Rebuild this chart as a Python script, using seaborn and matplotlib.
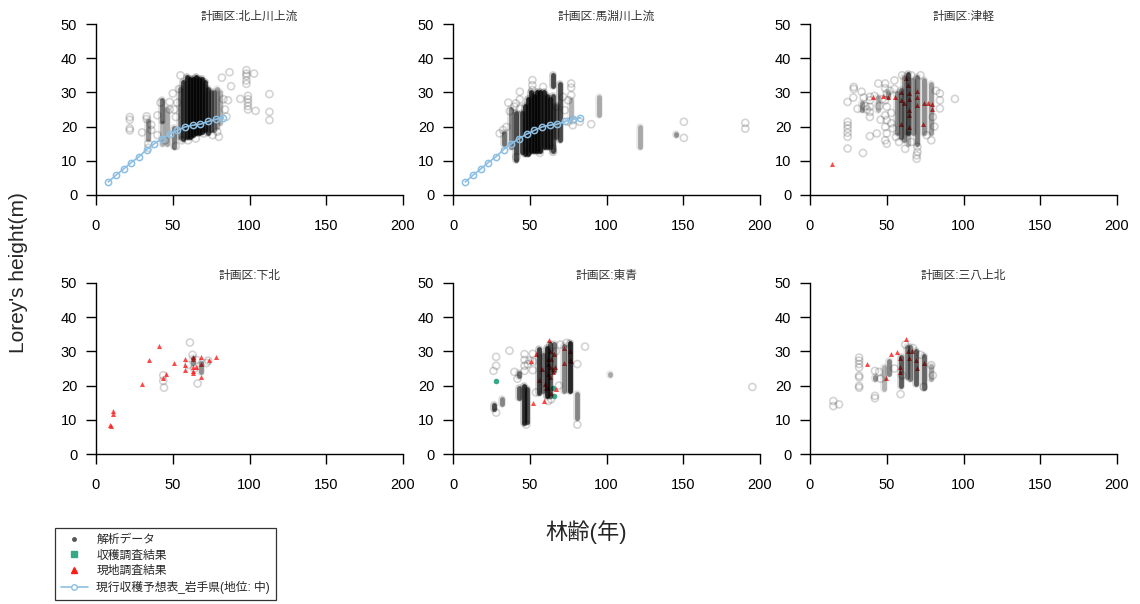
import matplotlib
matplotlib.use('Agg')
import matplotlib.pyplot as plt
from matplotlib.lines import Line2D
import pandas as pd
import seaborn as sns

# ---- data (age [years], Lorey's height [m]) ----
panel_titles = ['計画区:北上川上流', '計画区:馬淵川上流', '計画区:津軽',
                '計画区:下北', '計画区:東青', '計画区:三八上北']

# current yield table (Iwate, site class middle)
table_age = [8, 13, 18, 23, 28, 33, 38, 43, 48, 53, 58, 63, 68, 73, 78, 83]
table_h = [3.8, 5.8, 7.6, 9.5, 11.2, 13.3, 15.0, 16.5, 17.8, 18.9, 19.9, 20.4, 20.7, 21.5, 22.1, 22.6]

# scattered analysis points (age, height)
kita_pts = [(22, 22.8), (22, 22.0), (22, 19.5), (22, 18.9), (30, 18.3), (33, 23.0), (33, 22.2),
            (34, 15.0), (34, 13.8), (36, 19.0), (36, 20.5), (40, 23.3), (40, 17.5), (42, 27.0),
            (45, 16.0), (48, 27.2), (48, 25.0), (50, 29.7), (51, 25.0), (52, 22.8), (53, 27.0),
            (55, 35.0), (54, 31.0), (52, 14.3), (56, 16.0), (80, 17.0), (79, 18.5), (82, 34.3),
            (87, 35.9), (88, 31.8), (86, 27.7), (85, 22.9), (94, 28.1), (98, 36.5), (98, 35.5),
            (98, 34.8), (98, 33.5), (98, 32.5), (99, 29.0), (99, 28.0), (99, 27.0), (99, 26.0),
            (99, 25.0), (103, 35.5), (104, 24.6), (113, 29.5), (113, 24.3), (113, 21.9),
            (84, 25.0), (83, 28.0), (76, 17.5), (70, 18.0), (65, 16.5), (60, 16.0)]
mabe_pts = [(43.5, 27.9), (43.5, 25.3), (40, 25.8), (32.6, 19), (30.4, 18), (34.8, 19.9),
            (41.3, 11.1), (48.9, 12.6), (56.5, 12.3), (65.2, 12.6), (65, 13.6), (51.7, 33.6),
            (51.7, 32.1), (51.7, 30.7), (58.7, 31.6), (67.4, 25.8), (71.7, 28.7), (72.8, 24.8),
            (75, 21.4), (78, 21.9), (78, 20.4), (75, 27.7), (82.6, 21.4), (43.5, 30.2),
            (77, 32.6), (77, 31.4), (77, 29.2), (90, 20.7), (150.4, 21.4), (150.4, 16.7),
            (190.4, 21.1), (190.4, 19.4), (37, 24.5), (36, 27), (41, 26.8)]
tsug_pts = [(24.5, 21.4), (24.5, 20.4), (24.5, 19.4), (24.5, 18.2), (24.5, 17.0), (24.5, 13.6),
            (24.5, 27.2), (28.2, 28.5), (28.5, 31.6), (28.5, 31.0), (33.6, 30.2), (34.5, 12.3),
            (39, 28.7), (39, 27.7), (39, 25.8), (39, 24.3), (39, 22.8), (39, 17.2), (44.5, 32.6),
            (43.5, 18), (49, 32.6), (49, 31.2), (50, 29.7), (49, 27.7), (50, 25.8), (49, 23.3),
            (50, 21.9), (49, 19.9), (50, 18), (49, 16), (50, 15), (84.6, 27.7), (84.6, 25.3),
            (84.6, 29.7), (94.4, 28.1), (80, 22.8), (79, 16), (70, 14.1), (70, 12.6),
            (69.5, 11.6), (69.5, 10.6), (55, 31), (55, 33.5), (60, 35), (66, 35), (72, 35),
            (53, 24), (53, 21), (36, 26), (31, 25.2), (45, 26), (46, 22), (42, 29),
            (56, 17), (58, 15.5), (62, 13.5), (66, 15.5), (76, 17.5), (81, 20), (82, 30.5),
            (35, 28.5), (37, 25), (47, 28), (52, 30.5), (54, 19.5)]
shimo_pts = [(43.8, 23.0), (43.8, 21.4), (44.3, 19.4), (61.2, 32.6), (62.9, 29), (65.5, 27.5),
             (66.2, 20.6), (72, 26.6), (73.1, 27.3), (60, 26), (64, 25)]
tose_pts = [(28.1, 12.1), (26.4, 24.3), (28.1, 25.8), (28.1, 28.4), (36.8, 30.2), (46.6, 29.2),
            (46.6, 27.5), (46.6, 25.8), (46.6, 24.3), (48.7, 26.3), (50, 27.3), (52, 29.3),
            (52, 27), (52, 24.5), (86, 31.4), (195, 19.6), (81, 8.6), (81, 26.3), (47.7, 8.6),
            (54, 18), (67, 30), (70, 32), (74, 32.5), (69, 20), (62, 15.5), (64, 16), (42, 22),
            (40, 24)]
sanp_pts = [(15.2, 15.5), (15.2, 14), (18.9, 14.5), (32, 28.2), (32, 27.3), (32, 26.3),
            (32, 25.3), (32, 22.9), (32, 22.4), (32, 19.9), (32, 19.4), (42.3, 24.3), (42.3, 17),
            (42.3, 16.3), (59, 17.5), (74, 19.6), (55, 25), (45, 24), (46, 22), (62, 32),
            (67, 31), (72, 29), (80, 23), (79, 26), (60, 23)]

# dense vertical streaks of analysis points (age, low h, high h, density 0-1)
kita_cols = [(34, 16.5, 21.5, 0.45), (43, 21.5, 27.8, 0.6), (43, 15, 21, 0.3), (46, 15, 25, 0.35),
             (51, 14, 19.5, 0.55), (55, 17, 31, 0.5), (57, 16.5, 33, 0.85), (59, 17, 34.5, 0.95),
             (61, 17, 34, 1), (63, 17.5, 34, 1), (65, 18, 34.5, 1), (67, 18, 34, 1),
             (69, 18.5, 34, 0.95), (71, 19, 33, 0.9), (73, 18, 31, 0.8), (75, 19, 30, 0.6),
             (77, 19, 30, 0.5), (79, 20, 31, 0.35), (81, 21, 30, 0.3)]
mabe_cols = [(33, 15, 18, 0.6), (38, 14, 25, 0.5), (41, 10.2, 24, 0.8), (45, 12.5, 24, 0.8),
             (47, 12, 26, 0.9), (49, 12, 28, 0.95), (51, 13, 30, 0.95), (53, 13, 29, 1),
             (55, 13, 30, 1), (57, 13, 30, 1), (59, 14, 30, 0.95), (61, 14, 29, 0.9),
             (63, 14, 28, 0.85), (65, 13, 29, 0.8), (65, 32, 35, 0.8), (67, 17, 26, 0.6),
             (70, 16, 32.6, 0.8), (77, 22.4, 27.7, 0.3), (95, 23.3, 28.7, 0.35),
             (122, 14.1, 19.9, 0.35), (145, 17.5, 17.9, 0.45)]
tsug_cols = [(33.6, 24.8, 26.8, 0.4), (44.5, 24.8, 28.7, 0.3), (51, 28.7, 29.7, 0.4),
             (57, 18, 29.7, 0.45), (59, 17, 30.7, 0.55), (61, 16, 34.6, 0.45), (64, 18, 35.5, 0.8),
             (64, 15, 18, 0.3), (67, 18, 33.6, 0.4), (70, 15, 34.6, 0.55), (74, 18, 33.6, 0.45),
             (79, 18, 32.6, 0.4)]
shimo_cols = [(62.9, 26.5, 28, 0.4), (68.3, 24, 26.5, 0.45)]
tose_cols = [(27, 13.2, 14.2, 0.8), (32, 14.5, 16, 0.5), (43.3, 16.5, 19.4, 0.7),
             (43.3, 22.8, 23.8, 0.6), (46, 9, 20, 0.9), (48, 9.5, 19, 0.8), (56, 17.9, 30.7, 0.85),
             (58.5, 18.5, 29, 0.5), (61, 17, 31, 0.95), (63, 17, 32.2, 0.7), (66, 24.3, 32.2, 0.6),
             (72, 18.4, 31.7, 0.5), (76, 18.4, 32.6, 1.0), (81, 10.6, 17.5, 0.5),
             (102, 23.1, 23.5, 0.35)]
sanp_cols = [(42.3, 22, 22.4, 0.45), (48.5, 18.9, 25.3, 0.3), (51.5, 23.3, 27.3, 0.5),
             (59, 20, 28.5, 0.7), (63, 22.4, 31.2, 0.45), (65, 22, 31.2, 0.55),
             (69, 20.4, 30.2, 0.7), (74, 19.4, 28.7, 0.65), (79, 21.9, 25.8, 0.35)]

# harvest survey results
tose_harvest = [(28.1, 21.4), (65, 19.4), (66, 17.0)]

# field survey results
tsug_field = [(14.1, 9.0), (41.2, 28.7), (47.3, 29), (51, 28.7), (55.3, 28.7), (59, 30),
              (59, 27.9), (59, 20.9), (62.3, 34.3), (61, 26.8), (64, 32.1), (64.4, 29.7),
              (64.4, 28), (64.4, 24.8), (64.4, 23.3), (64.4, 19.9), (69.4, 30.4), (69.8, 28.7),
              (69.4, 26.3), (73.8, 20.7), (74.4, 26.8), (77, 26.8), (79.2, 26.6), (79.2, 25)]
shimo_field = [(9.1, 8.6), (9.5, 8.3), (11.3, 12.5), (11.3, 11.8), (30.2, 20.6), (34.5, 27.6),
               (41.2, 31.5), (45.3, 23.3), (43.8, 22.3), (51, 26.5), (58.1, 27.7), (58.1, 26.1),
               (58.1, 24.5), (62.9, 28.4), (62.9, 27.7), (62.9, 25.5), (62.9, 24.3),
               (62.9, 23.8), (65, 25.3), (68.3, 28.4), (68.3, 22.4), (68.3, 26.3), (73.3, 27.5),
               (78.5, 28.5)]
tose_field = [(62.3, 33.3), (72, 31), (52, 15), (59, 15.5), (54.2, 29.2), (51, 27.3), (56, 21.6),
              (59.7, 20.4), (60.7, 19.4), (61.8, 19.2), (64, 17.9), (67.2, 18.9), (61.8, 27.7),
              (63.3, 30.2), (63, 25.5), (61.8, 26.3), (64, 27.8), (65, 24.8), (66, 29.2),
              (66.7, 25.5), (61.8, 23.3), (63, 22.5), (65, 24.1), (72, 26.5), (75.9, 30),
              (76.4, 27.5), (77, 27.3), (58, 24.8)]
sanp_field = [(37.3, 26.3), (49.5, 22.2), (52.5, 29.2), (56.8, 29.7), (58.6, 28.2), (58.6, 25.3),
              (58.6, 24.1), (62.3, 33.5), (64, 30.2), (66.6, 30.2), (64.4, 28.2), (68.9, 27.5),
              (69.4, 25.1), (74.4, 26.5)]

legend_labels = ['解析データ', '収穫調査結果', '現地調査結果', '現行収穫予想表_岩手県(地位: 中)']
x_ticks = [0, 50, 100, 150, 200]
y_ticks = [0, 10, 20, 30, 40, 50]

panels = [
    (kita_pts, kita_cols, [], [], True),
    (mabe_pts, mabe_cols, [], [], True),
    (tsug_pts, tsug_cols, [], tsug_field, False),
    (shimo_pts, shimo_cols, [], shimo_field, False),
    (tose_pts, tose_cols, tose_harvest, tose_field, False),
    (sanp_pts, sanp_cols, [], sanp_field, False),
]

# ---- figure ----
sns.set_style('ticks')
plt.rcParams['font.family'] = ['Liberation Sans', 'Noto Sans CJK JP']

W, H = 1140, 604
fig = plt.figure(figsize=(W / 100, H / 100), dpi=100)

col_left = [96, 453, 810]
row_top = [24, 283]
pw, ph = 307, 171

BLUE = '#8dbfe3'
RED = '#ff1a1a'
TEAL = '#35a888'

for i, (pts, cols, harvest, field, show_table) in enumerate(panels):
    r, c = divmod(i, 3)
    ax = fig.add_axes([col_left[c] / W, 1 - (row_top[r] + ph) / H, pw / W, ph / H])

    # dense streaks: a soft halo plus a darker core
    dfc = pd.DataFrame(cols, columns=['age', 'lo', 'hi', 'dens'])
    halo = ax.vlines(dfc['age'], dfc['lo'], dfc['hi'],
                     colors=[(0, 0, 0, 0.25 * d) for d in dfc['dens']], linewidths=5.5)
    halo.set_capstyle('round')
    core = ax.vlines(dfc['age'], dfc['lo'], dfc['hi'],
                     colors=[(0, 0, 0, 0.8 * d) for d in dfc['dens']], linewidths=3.5)
    core.set_capstyle('round')

    dfp = pd.DataFrame(pts, columns=['age', 'h'])
    sns.scatterplot(data=dfp, x='age', y='h', ax=ax, marker='o', s=26,
                    facecolors='none', edgecolors=(0, 0, 0, 0.17), linewidth=1.2)

    if show_table:
        dft = pd.DataFrame({'age': table_age, 'h': table_h})
        sns.lineplot(data=dft, x='age', y='h', ax=ax, color=BLUE, lw=1.2,
                     marker='o', markersize=4.5, markerfacecolor='none',
                     markeredgecolor=BLUE, markeredgewidth=1.1)
    if harvest:
        dfh = pd.DataFrame(harvest, columns=['age', 'h'])
        sns.scatterplot(data=dfh, x='age', y='h', ax=ax, marker='o', s=16,
                        color=TEAL, linewidth=0)
    if field:
        dff = pd.DataFrame(field, columns=['age', 'h'])
        sns.scatterplot(data=dff, x='age', y='h', ax=ax, marker='^', s=13,
                        color=RED, alpha=0.8, linewidth=0)

    ax.set_xlim(0, 200)
    ax.set_ylim(0, 50)
    ax.set_xticks(x_ticks)
    ax.set_yticks(y_ticks)
    ax.set_xlabel('')
    ax.set_ylabel('')
    sns.despine(ax=ax)
    for sp in ['left', 'bottom']:
        ax.spines[sp].set_linewidth(1.0)
        ax.spines[sp].set_color('black')
    ax.tick_params(axis='both', direction='out', length=7.5, width=1.0,
                   labelsize=10.5, colors='black')
    ax.tick_params(axis='x', pad=10)
    ax.tick_params(axis='y', pad=6)
    ax.set_title(panel_titles[i], fontsize=8.5, color='#333333', pad=3)

fig.text(19 / W, 1 - 273 / H, "Lorey's height(m)", rotation=90, fontsize=15,
         ha='center', va='center')
fig.text(586 / W, 1 - 532 / H, '林齢(年)', fontsize=16, ha='center', va='center')

handles = [
    Line2D([], [], ls='none', marker='o', markersize=2.5, color='#555555'),
    Line2D([], [], ls='none', marker='s', markersize=4, color=TEAL),
    Line2D([], [], ls='none', marker='^', markersize=4.5, color=RED),
    Line2D([], [], color=BLUE, lw=1.2, marker='o', markersize=4,
           markerfacecolor='white', markeredgecolor=BLUE),
]
leg = fig.legend(handles, legend_labels, loc='upper left',
                 bbox_to_anchor=(55 / W, 1 - 528 / H), borderaxespad=0,
                 fontsize=8.5, frameon=True, fancybox=False, edgecolor='black',
                 handlelength=2.3, handletextpad=0.7, labelspacing=0.3,
                 borderpad=0.5)
leg.get_frame().set_linewidth(0.9)

plt.savefig('out.png', dpi=100)
plt.close()
